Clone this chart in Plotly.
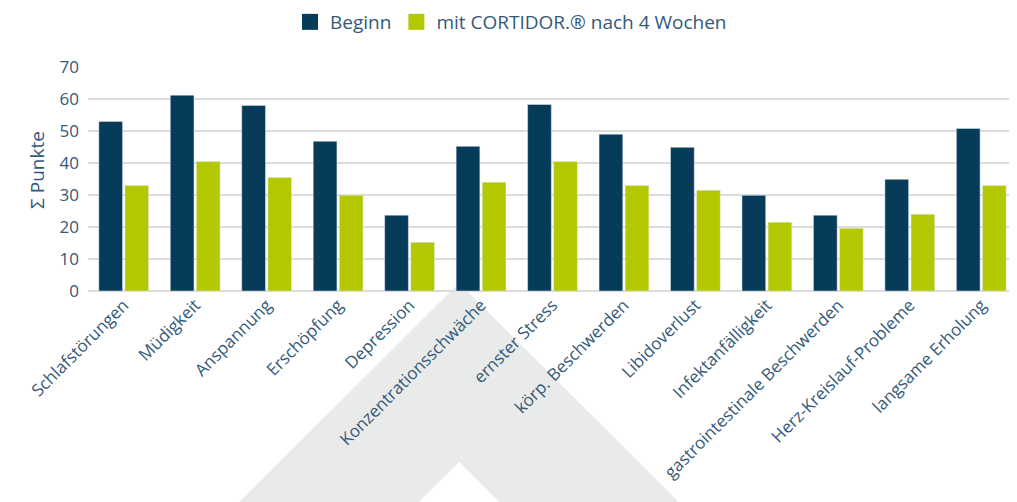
import plotly.graph_objects as go

categories = ["Schlafstörungen", "Müdigkeit", "Anspannung", "Erschöpfung", "Depression",
              "Konzentrationsschwäche", "ernster Stress", "körp. Beschwerden", "Libidoverlust",
              "Infektanfälligkeit", "gastrointestinale Beschwerden", "Herz-Kreislauf-Probleme",
              "langsame Erholung"]
beginn = [53.0, 61.2, 58.0, 46.8, 23.7, 45.2, 58.3, 49.0, 44.9, 29.9, 23.7, 34.9, 50.8]
nach4 = [33.0, 40.5, 35.5, 29.9, 15.2, 34.0, 40.5, 33.0, 31.5, 21.5, 19.6, 24.0, 33.0]
series_names = ["Beginn", "mit CORTIDOR.® nach 4 Wochen"]
y_ticks = [0, 10, 20, 30, 40, 50, 60, 70]
y_title = "Σ Punkte"

BLUE = "#073b5a"
GREEN = "#b3c800"
TEXT = "#33597a"
FONT = "Open Sans"

# the page body has an 8px default margin; size the figure so it fills the 1017x502 window
OFF = 8
W, H = 1017 - OFF, 502 - OFF
ML, MR, MT, MB = 80, 0, 59, 211
PW, PH = W - ML - MR, H - MT - MB


def px2paper(px, py):
    # px, py given in window pixels
    return (px - OFF - ML) / PW, (H - MB - (py - OFF)) / PH


fig = go.Figure()
fig.add_trace(go.Bar(x=categories, y=beginn, name=series_names[0], marker_color=BLUE,
                     showlegend=False))
fig.add_trace(go.Bar(x=categories, y=nach4, name=series_names[1], marker_color=GREEN,
                     showlegend=False))
# legend-only entries with larger square swatches
for nm, col in zip(series_names, [BLUE, GREEN]):
    fig.add_trace(go.Scatter(x=[categories[0]], y=[None], mode="markers", name=nm,
                             marker=dict(symbol="square", size=16, color=col)))

# decorative chevron in the background
pts_outer = [(221, 520), (459, 283), (697, 520)]
pts_inner = [(517, 520), (459, 462), (401, 520)]
pts = [px2paper(*p) for p in pts_outer + pts_inner]
path = "M " + " L ".join(f"{x:.4f},{y:.4f}" for x, y in pts) + " Z"
fig.add_shape(type="path", path=path, xref="paper", yref="paper",
              fillcolor="#e9ebea", line=dict(width=0), layer="below")

# y-axis title (sits a little above the plot's vertical centre in the reference)
tx, ty = px2paper(37, 170)
fig.add_annotation(text=y_title, x=tx, y=ty, xref="paper", yref="paper", textangle=-90,
                   showarrow=False, xanchor="center", yanchor="middle",
                   font=dict(size=19, color=TEXT, family=FONT))

lx, ly = px2paper(511, 3)
fig.update_layout(
    width=W, height=H,
    margin=dict(l=ML, r=MR, t=MT, b=MB, autoexpand=False),
    paper_bgcolor="white", plot_bgcolor="rgba(0,0,0,0)",
    barmode="group", bargap=0.27, bargroupgap=0.09,
    font=dict(family=FONT, color=TEXT, size=16),
    legend=dict(orientation="h", x=lx, xanchor="center", y=ly, yanchor="top",
                font=dict(size=19, color=TEXT), itemsizing="trace",
                traceorder="normal", itemwidth=30, tracegroupgap=0),
)
fig.update_xaxes(range=[-0.5, len(categories) - 0.5], tickangle=-45,
                 tickfont=dict(size=17, color=TEXT), showgrid=False,
                 showline=False, ticks="")
fig.update_yaxes(range=[0, 70], tickvals=y_ticks, tickfont=dict(size=17, color=TEXT),
                 gridcolor="#dcdcdc", gridwidth=1.5, zeroline=True, zerolinecolor="#dcdcdc",
                 zerolinewidth=1.5, ticklabelstandoff=8)

fig.write_html("out.html")
